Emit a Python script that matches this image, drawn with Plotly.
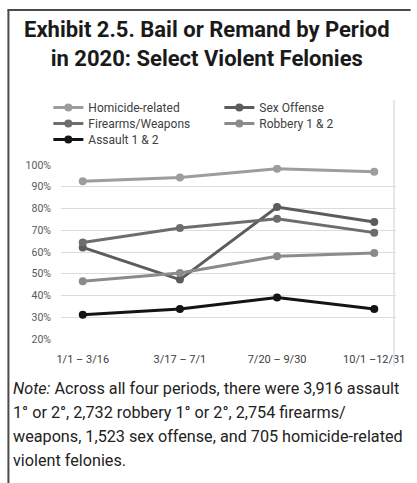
import plotly.graph_objects as go

# Periods of 2020 and share of cases with bail set or remand (%)
periods = ["1/1 – 3/16", "3/17 – 7/1", "7/20 – 9/30", "10/1 –12/31"]
homicide = [92.5, 94.3, 98.3, 96.9]
sex_offense = [62.1, 47.3, 80.7, 73.8]
firearms = [64.4, 71.0, 75.3, 68.9]
robbery = [46.5, 50.3, 58.0, 59.5]
assault = [31.2, 33.8, 39.1, 33.8]

# name, values, colour, legend row
series = [
    ("Homicide-related", homicide, "#9d9d9d", "legend"),
    ("Sex Offense", sex_offense, "#5c5c5c", "legend"),
    ("Firearms/Weapons", firearms, "#6d6d6d", "legend2"),
    ("Robbery 1 & 2", robbery, "#8b8b8b", "legend2"),
    ("Assault 1 & 2", assault, "#141414", "legend3"),
]

W, H = 417, 483
L, R, T, B = 61, 405, 165, 339  # plot area in pixels


def px(x):
    return (x - L) / (R - L)


def py(y):
    return (B - y) / (B - T)


fig = go.Figure()
for name, vals, color, leg in series:
    fig.add_trace(go.Scatter(
        x=periods, y=vals, name=name, mode="lines+markers",
        line=dict(color=color, width=3),
        marker=dict(color=color, size=8),
        legend=leg,
    ))


def legend_row(y_top):
    return dict(
        orientation="h", x=px(48), y=py(y_top), xanchor="left", yanchor="top",
        entrywidth=126, entrywidthmode="pixels", itemwidth=30,
        font=dict(family="Roboto", size=12, color="#404040"),
        bgcolor="rgba(0,0,0,0)", borderwidth=0, tracegroupgap=0,
    )


fig.update_layout(
    width=W, height=H,
    margin=dict(l=L, r=W - R, t=T, b=H - B),
    paper_bgcolor="white", plot_bgcolor="white",
    showlegend=True,
    legend=legend_row(93),
    legend2=legend_row(109),
    legend3=legend_row(125),
    font=dict(family="Roboto", color="#595959"),
)

fig.update_yaxes(
    range=[20, 100], dtick=10, ticksuffix="%",
    showgrid=True, gridcolor="#dcdcdc", gridwidth=1,
    zeroline=False, showline=False, ticks="",
    tickfont=dict(family="Roboto", size=10.5, color="#595959"),
    ticklabelstandoff=9,
)
fig.update_xaxes(
    showgrid=False, zeroline=False, showline=False, ticks="",
    tickfont=dict(family="Roboto", size=11, color="#404040"),
    ticklabelstandoff=12,
)

# Title
fig.add_annotation(
    text="<b>Exhibit 2.5. Bail or Remand by Period<br>in 2020: Select Violent Felonies</b>",
    xref="paper", yref="paper", x=px(211), y=py(44), xanchor="center", yanchor="middle",
    showarrow=False, align="center",
    font=dict(family="Roboto", size=22, color="#1a1a1a"),
)

# Note beneath the chart, one annotation per line for wider leading
note_lines = [
    "<i>Note:</i> Across all four periods, there were 3,916 assault",
    "1° or 2°, 2,732 robbery 1° or 2°, 2,754 firearms/",
    "weapons, 1,523 sex offense, and 705 homicide-related",
    "violent felonies.",
]
for i, line in enumerate(note_lines):
    fig.add_annotation(
        text=line, xref="paper", yref="paper", x=px(10), y=py(388 + 24.3 * i),
        xanchor="left", yanchor="middle", showarrow=False, align="left",
        font=dict(family="Roboto", size=16.2, color="#222222"),
    )

# Frame lines
fig.add_shape(type="line", xref="paper", yref="paper",
              x0=px(7), x1=px(7), y0=py(10), y1=py(490),
              line=dict(color="#4a4a4a", width=2))
fig.add_shape(type="line", xref="paper", yref="paper",
              x0=px(6), x1=px(420), y0=py(10), y1=py(10),
              line=dict(color="#4a4a4a", width=2))
fig.add_shape(type="line", xref="paper", yref="paper",
              x0=px(403), x1=px(403), y0=py(100), y1=py(366),
              line=dict(color="#e0e0e0", width=1.5))

fig.write_html("out.html")
